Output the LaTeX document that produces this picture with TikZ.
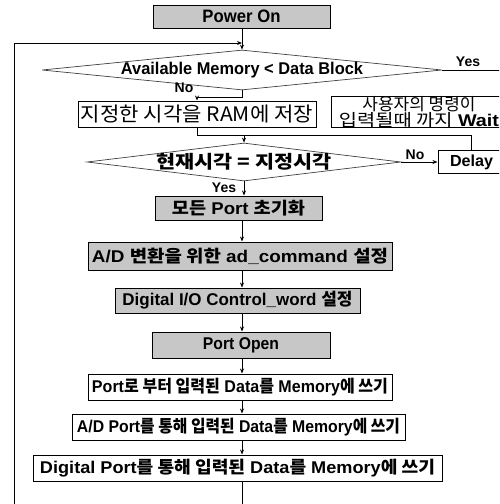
\documentclass[tikz,border=0pt]{standalone}
\usepackage{fontspec}
\usepackage{graphicx}
\setmainfont{Liberation Sans}
\newfontfamily\kr{Noto Sans CJK KR}
\usetikzlibrary{shapes.geometric,arrows.meta}
\newcommand\fitto[2]{\resizebox{#1}{\height}{#2}}
\newcommand\K[1]{{\kr\bfseries #1}}
\newcommand\KR[1]{{\kr\mdseries #1}}
\tikzset{
  box/.style={draw, line width=1pt, inner sep=0pt, align=center,
    font=\fontsize{17}{19}\selectfont\bfseries},
  gbox/.style={box, fill=black!22},
  diam/.style={draw=black!75, line width=0.7pt, shape=diamond, inner sep=0pt},
  lab/.style={inner sep=0pt, font=\fontsize{14}{16}\selectfont\bfseries},
  arr/.style={-{Stealth[length=5pt,width=4pt]}, line width=1pt},
  ln/.style={line width=1pt},
}
\begin{document}
\begin{tikzpicture}[x=1pt,y=-1pt]
\useasboundingbox (0,0) rectangle (499,504);
\clip (0,0) rectangle (499,504);
\coordinate (main) at (242,0);
% nodes
\node[gbox, minimum width=177pt, minimum height=23pt, font=\fontsize{18}{20}\selectfont\bfseries] (power) at (241.5,16.5) {\fitto{78pt}{Power On}};
\node[diam, minimum width=400pt, minimum height=40pt,
  label={[lab, font=\fontsize{17}{19}\selectfont\bfseries]center:\fitto{242pt}{Available Memory < Data Block}}] (d1) at (242,70) {};
\node[box, minimum width=238pt, minimum height=26pt, font=\fontsize{20}{22}\selectfont] (ram) at (197,114) {\fitto{232pt}{\KR{지정한 시각을 RAM에 저장}}};
\node[box, minimum width=175pt, minimum height=30pt, font=\fontsize{17}{14.5}\selectfont\bfseries] (wait) at (419,112)
  {\fitto{113pt}{\KR{사용자의 명령이}}\\\fitto{160pt}{\KR{입력될때 까지} Wait}};
\node[diam, minimum width=314pt, minimum height=38pt,
  label={[lab, font=\fontsize{18}{20}\selectfont]center:\fitto{175pt}{\K{현재시각 = 지정시각}}}] (d2) at (244,162) {};
\node[box, minimum width=67pt, minimum height=23pt, font=\fontsize{16}{18}\selectfont\bfseries] (delay) at (471.5,162) {\fitto{43pt}{Delay}};
\node[gbox, minimum width=167pt, minimum height=24pt] (t1) at (238.5,208) {\fitto{133pt}{\K{모든} Port \K{초기화}}};
\node[gbox, minimum width=304pt, minimum height=28pt] (t2) at (240,256) {\fitto{296pt}{A/D \K{변환을 위한} ad\_command \K{설정}}};
\node[gbox, minimum width=245pt, minimum height=25pt] (t3) at (237.5,300.5) {\fitto{230pt}{Digital I/O Control\_word \K{설정}}};
\node[gbox, minimum width=178pt, minimum height=26pt] (t4) at (241,345) {\fitto{76pt}{Port Open}};
\node[box, minimum width=304pt, minimum height=26pt] (t5) at (240,387) {\fitto{296pt}{Port\K{로 부터 입력된} Data\K{를} Memory\K{에 쓰기}}};
\node[box, minimum width=333pt, minimum height=26pt] (t6) at (238.5,427) {\fitto{323pt}{A/D Port\K{를 통해 입력된} Data\K{를} Memory\K{에 쓰기}}};
\node[box, minimum width=409pt, minimum height=26pt] (t7) at (237.5,468) {\fitto{395pt}{Digital Port\K{를 통해 입력된} Data\K{를} Memory\K{에 쓰기}}};
% coordinates
\coordinate (j1) at (242,43);
\coordinate (j2) at (244,135);
\coordinate (bot) at (242,515);
\coordinate (botl) at (14,515);
\coordinate (yesend) at (510,70);
% connectors
\draw[arr] (power.south -| main) -- (d1.north);
\draw[arr] (t7.south -| main) -- (bot) -- (botl) |- (j1);
\draw[arr] (d1.south) -- ++(0,7) -| (ram.north);
\draw[ln] (d1.east) -- (yesend);
\draw[ln] (ram.south) |- (j2);
\draw[ln] (delay.north) |- (j2);
\draw[arr] (j2) -- (d2.north);
\draw[arr] (d2.east) -- (delay.west);
\draw[arr] (d2.south) -- (t1.north -| d2.south);
\draw[arr] (t1.south -| main) -- (t2.north -| main);
\draw[arr] (t2.south -| main) -- (t3.north -| main);
\draw[arr] (t3.south -| main) -- (t4.north -| main);
\draw[arr] (t4.south -| main) -- (t5.north -| main);
\draw[arr] (t5.south -| main) -- (t6.north -| main);
\draw[arr] (t6.south -| main) -- (t7.north -| main);
% labels
\node[lab] (yes1) at (468,62) {Yes};
\node[lab] (no1) at (184,88) {No};
\node[lab] (no2) at (415,155) {No};
\node[lab] (yes2) at (224,188) {Yes};
\end{tikzpicture}
\end{document}
